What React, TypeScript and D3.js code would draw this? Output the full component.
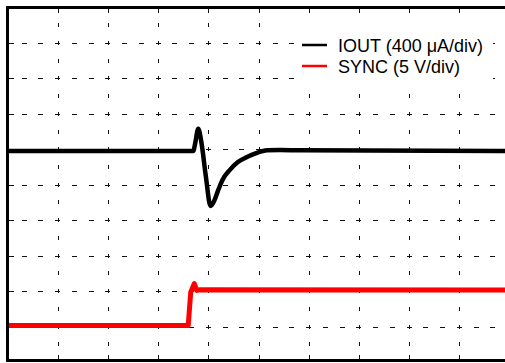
import React from 'react';
import * as d3 from 'd3';

const W = 505;
const H = 363;

// time axis and vertical axis are expressed in screen divisions (10 x 10 graticule)
const xDivisions = [0, 1, 2, 3, 4, 5, 6, 7, 8, 9, 10];
const yDivisions = [0, 1, 2, 3, 4, 5, 6, 7, 8, 9, 10];

// IOUT trace (400 µA/div), in divisions
const ioutTime = [0, 3.70, 3.74, 3.80, 3.86, 3.95, 4.045, 4.11, 4.19, 4.28, 4.43, 4.59, 4.77, 4.97, 5.17, 5.43, 5.83, 10];
const ioutLevel = [5.95, 5.95, 6.18, 6.58, 6.22, 5.25, 4.40, 4.52, 4.82, 5.13, 5.42, 5.64, 5.78, 5.90, 5.97, 5.98, 5.97, 5.95];

// SYNC trace (5 V/div), in divisions
const syncTime = [0, 3.60, 3.65, 3.72, 3.77, 3.84, 10];
const syncLevel = [1.03, 1.03, 1.97, 2.21, 2.02, 2.04, 2.03];

const legendLabels = ['IOUT (400 \u03bcA/div)', 'SYNC (5 V/div)'];
const legendColors = ['#000000', '#ff0000'];

export default function App() {
  const x = d3.scaleLinear().domain([0, 10]).range([7.5, 509.5]);
  const y = d3.scaleLinear().domain([0, 10]).range([362, 7.5]);

  const ioutPath = d3
    .line<[number, number]>()
    .x((d) => x(d[0]))
    .y((d) => y(d[1]))
    .curve(d3.curveMonotoneX)(ioutTime.map((t, i) => [t, ioutLevel[i]] as [number, number]));
  const syncPath = d3
    .line<[number, number]>()
    .x((d) => x(d[0]))
    .y((d) => y(d[1]))
    .curve(d3.curveLinear)(syncTime.map((t, i) => [t, syncLevel[i]] as [number, number]));

  const inner = xDivisions.slice(1, -1);
  const innerY = yDivisions.slice(1, -1);
  const halfSteps = d3.range(0, 21).map((j) => j / 2);
  const thirdSteps = d3.range(0, 31).map((j) => j / 3);

  const dashes: JSX.Element[] = [];
  inner.forEach((k) => {
    const xx = Math.round(x(k)) + 0.5;
    halfSteps.forEach((s) => {
      const yy = y(s);
      dashes.push(<line key={`v${k}-${s}`} x1={xx} x2={xx} y1={yy - 2} y2={yy + 2} />);
    });
    dashes.push(<line key={`vt${k}`} x1={xx} x2={xx} y1={9} y2={13} />);
    dashes.push(<line key={`vb${k}`} x1={xx} x2={xx} y1={355} y2={359} />);
  });
  innerY.forEach((k) => {
    const yy = Math.round(y(k)) + 0.5;
    thirdSteps.forEach((s) => {
      const xx = x(s);
      dashes.push(<line key={`h${k}-${s}`} x1={xx - 2.5} x2={xx + 2.5} y1={yy} y2={yy} />);
    });
    dashes.push(<line key={`hl${k}`} x1={9} x2={14} y1={yy} y2={yy} />);
  });

  return (
    <svg
      width={W}
      height={H}
      style={{ position: 'fixed', left: 0, top: 0, background: '#fff' }}
      fontFamily="'Liberation Sans', Arial, sans-serif"
    >
      <defs>
        <clipPath id="plot">
          <rect x={9} y={9} width={W - 9} height={350} />
        </clipPath>
      </defs>
      <rect x={0} y={0} width={W} height={H} fill="#fff" />
      <g clipPath="url(#plot)" stroke="#111" strokeWidth={1} shapeRendering="crispEdges">
        {dashes}
      </g>
      <rect x={295} y={18} width={198} height={70} fill="#fff" />
      <g clipPath="url(#plot)" fill="none" strokeLinejoin="round" strokeLinecap="round">
        <path d={syncPath || ''} stroke="#ff0000" strokeWidth={5} />
        <path d={ioutPath || ''} stroke="#000" strokeWidth={4.5} />
      </g>
      <g stroke="#000" strokeWidth={3} fill="none">
        <line x1={7.5} x2={7.5} y1={6} y2={362} />
        <line x1={6} x2={W} y1={7.5} y2={7.5} />
        <line x1={6} x2={W} y1={360.5} y2={360.5} />
      </g>
      {legendLabels.map((label, i) => (
        <g key={label}>
          <line
            x1={302}
            x2={327}
            y1={45 + i * 21}
            y2={45 + i * 21}
            stroke={legendColors[i]}
            strokeWidth={2.5}
          />
          <text x={338} y={51.7 + i * 21} fontSize={18} fill="#000">
            {label}
          </text>
        </g>
      ))}
    </svg>
  );
}
